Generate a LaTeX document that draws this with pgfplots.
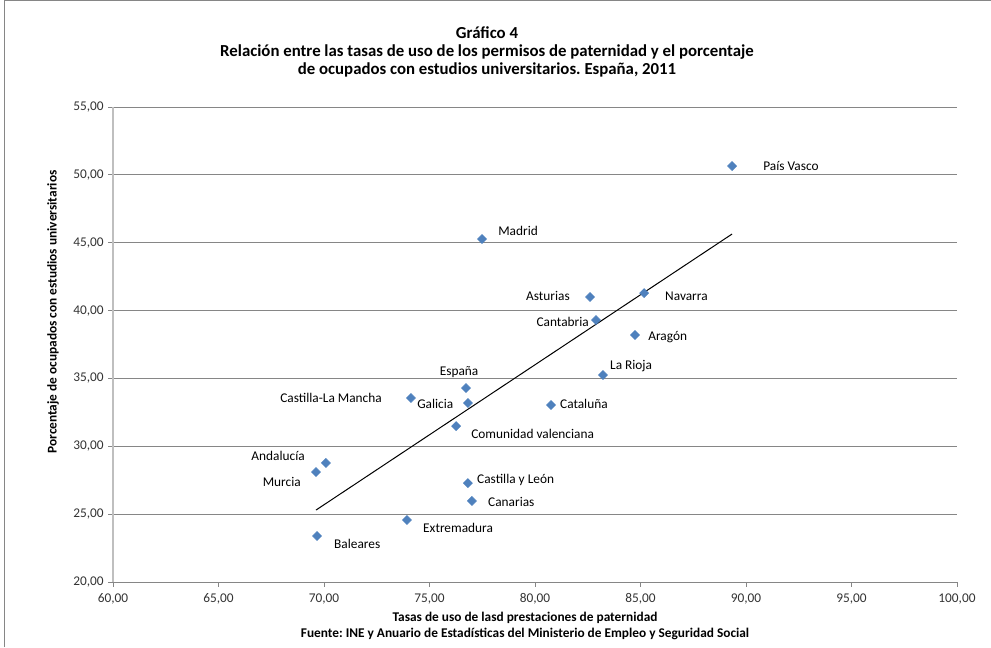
\documentclass[border=0pt]{standalone}
\usepackage{fontspec}
\setmainfont{Carlito}
\usepackage{pgfplots}
\pgfplotsset{compat=1.18}
\frenchspacing

\definecolor{markblue}{HTML}{4F81BD}
\definecolor{gridgray}{HTML}{868686}
\definecolor{axisgray}{HTML}{BFBFBF}

\begin{document}
\begin{tikzpicture}
% picture area: 991 x 647 px at 0.75pt per px
\useasboundingbox (0,0) rectangle (743.25pt,485.25pt);
\draw[gridgray, line width=0.75pt] (3pt,0) -- (3pt,484.5pt) -- (743.25pt,484.5pt);

\begin{axis}[
    at={(84.75pt,48.75pt)}, anchor=south west,
    scale only axis,
    width=633pt, height=356.25pt,
    xmin=60, xmax=100, ymin=20, ymax=55,
    xtick={60,65,...,100},
    ytick={20,25,...,55},
    axis x line=bottom, axis y line=left,
    x axis line style={-, gridgray, line width=0.75pt},
    y axis line style={-, axisgray, line width=1.5pt},
    ymajorgrids=true,
    grid style={gridgray, line width=0.75pt},
    tick align=outside,
    major tick length=3.5pt,
    tick style={gridgray, line width=0.75pt},
    /pgf/number format/.cd, fixed, fixed zerofill, precision=2, use comma, 1000 sep={}, assume math mode=true,
    /pgfplots/.cd,
    tick label style={font=\fontsize{10}{12}\selectfont, text=black!80},
    xticklabel style={yshift=-1.5pt},
    clip=false,
]
% data: x = uso permisos de paternidad, y = % ocupados con estudios universitarios
\addplot[only marks, mark=square*, mark size=2.4pt,
    mark options={rotate=45, fill=markblue, draw=markblue}]
    coordinates {
        (89.34,50.65) % Pais Vasco
        (77.49,45.27) % Madrid
        (82.61,41.00) % Asturias
        (85.17,41.29) % Navarra
        (82.89,39.30) % Cantabria
        (84.74,38.20) % Aragon
        (83.22,35.25) % La Rioja
        (76.73,34.29) % Espana
        (74.12,33.56) % Castilla-La Mancha
        (76.82,33.19) % Galicia
        (80.76,33.04) % Cataluna
        (76.26,31.49) % Com. valenciana
        (70.09,28.77) % Andalucia
        (69.62,28.10) % Murcia
        (76.82,27.29) % Castilla y Leon
        (77.01,25.97) % Canarias
        (73.93,24.57) % Extremadura
        (69.67,23.39) % Baleares
    };
% linear trend
\addplot[black, line width=0.75pt] coordinates {(69.62,25.30) (89.34,45.64)};

\begin{scope}[every node/.style={inner sep=0pt, font=\fontsize{10}{12}\selectfont}]
\node[anchor=west] at (axis cs:90.81,50.65) {País Vasco};
\node[anchor=west] at (axis cs:78.25,45.86) {Madrid};
\node[anchor=east] at (axis cs:81.66,41.07) {Asturias};
\node[anchor=west] at (axis cs:86.16,41.07) {Navarra};
\node[anchor=east] at (axis cs:82.56,39.16) {Cantabria};
\node[anchor=west] at (axis cs:85.36,38.05) {Aragón};
\node[anchor=west] at (axis cs:83.55,35.92) {La Rioja};
\node at (axis cs:76.40,35.47) {España};
\node[anchor=east] at (axis cs:72.75,33.56) {Castilla-La Mancha};
\node[anchor=west] at (axis cs:74.41,33.12) {Galicia};
\node[anchor=west] at (axis cs:81.18,33.12) {Cataluña};
\node[anchor=west] at (axis cs:76.97,30.90) {Comunidad valenciana};
\node[anchor=east] at (axis cs:69.10,29.28) {Andalucía};
\node[anchor=east] at (axis cs:68.91,27.37) {Murcia};
\node[anchor=west] at (axis cs:77.25,27.51) {Castilla y León};
\node[anchor=west] at (axis cs:77.77,25.89) {Canarias};
\node[anchor=west] at (axis cs:74.69,23.98) {Extremadura};
\node[anchor=west] at (axis cs:70.47,22.80) {Baleares};
\end{scope}
\end{axis}

\node[align=center, font=\fontsize{12.6}{13.5}\selectfont\bfseries] at (365.25pt,446.25pt)
    {Gráfico 4\\Relación entre las tasas de uso de los permisos de paternidad y el porcentaje\\de ocupados con estudios universitarios. España, 2011};
\node[font=\fontsize{10}{12}\selectfont\bfseries] at (393.75pt,21.75pt) {Tasas de uso de lasd prestaciones de paternidad};
\node[font=\fontsize{10}{12}\selectfont\bfseries] at (393.75pt,9.75pt) {Fuente: INE y Anuario de Estadísticas del Ministerio de Empleo y Seguridad Social};
\node[rotate=90, font=\fontsize{10}{12}\selectfont\bfseries] at (39.75pt,251.25pt) {Porcentaje de ocupados con estudios universitarios};
\end{tikzpicture}
\end{document}
